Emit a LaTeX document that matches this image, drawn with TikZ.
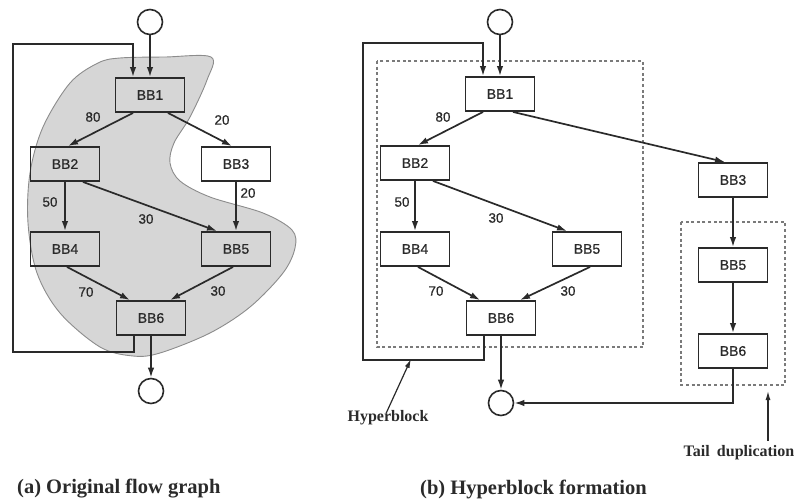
\documentclass[tikz,border=0pt]{standalone}
\usepackage{fontspec}
\setmainfont{Liberation Serif}
\setsansfont{Liberation Sans}
\newfontfamily\medsans[FakeBold=0.7]{Liberation Sans}
\usetikzlibrary{arrows.meta}
\definecolor{ink}{HTML}{2A2A2A}
\definecolor{blobfill}{HTML}{D6D6D6}
\definecolor{blobline}{HTML}{8C8C8C}
\definecolor{dotc}{HTML}{7A7A7A}
\tikzset{
  bb/.style={draw=ink, line width=1.9pt, minimum width=69pt, minimum height=34pt, inner sep=0pt,
    font=\medsans\fontsize{14}{14}\selectfont, text=ink},
  circ/.style={draw=ink, line width=1.6pt, circle, minimum size=25pt, inner sep=0pt},
  arr/.style={draw=ink, line width=1.7pt, -{Latex[length=10pt,width=6.5pt]}},
  lab/.style={font=\medsans\fontsize{13.5}{13.5}\selectfont, text=ink, inner sep=0pt},
  grp/.style={draw=dotc, line width=1.5pt, dash pattern=on 3pt off 2.6pt},
  note/.style={font=\bfseries\fontsize{16}{16}\selectfont, text=ink, inner sep=0pt},
  captext/.style={font=\bfseries\fontsize{20.5}{20.5}\selectfont, text=ink, inner sep=0pt, anchor=west}
}
\begin{document}
\begin{tikzpicture}[x=1pt,y=-1pt]
\useasboundingbox (0,0) rectangle (796,500);
% ---------- (a) original flow graph ----------
\fill[blobfill, draw=blobline, line width=0.9pt] plot[smooth cycle, tension=0.55] coordinates {
 (120,58) (165,57) (211,57) (207,80) (190,117) (174,143) (170,163) (180,181) (210,197)
 (263,213) (292,230) (295,248) (283,273) (250,307) (210,333) (160,353) (133,356)
 (100,347) (60,313) (37,273) (28,223) (30,173) (43,127) (70,83) (98,63)};
\node[circ] (a0) at (150,22) {};
\node[bb] (a1) at (150,95) {BB1};
\node[bb] (a2) at (65,164) {BB2};
\node[bb] (a3) at (236,164) {BB3};
\node[bb] (a4) at (65,249) {BB4};
\node[bb] (a5) at (236,249) {BB5};
\node[bb] (a6) at (151,318) {BB6};
\node[circ] (a7) at (151,391) {};
\coordinate (alb) at (13,352);
\coordinate (alt) at (13,44);
\draw[arr] (a0) -- (a1);
\draw[arr] ([xshift=-17pt]a6.south) |- (alb) -- (alt) -| ([xshift=-17pt]a1.north);
\draw[arr] ([xshift=-17pt]a1.south) -- ([xshift=3pt]a2.north);
\draw[arr] ([xshift=18pt]a1.south) -- ([xshift=-4pt]a3.north);
\draw[arr] (a2) -- (a4);
\draw[arr] ([xshift=18pt]a2.south) -- ([xshift=-19pt]a5.north);
\draw[arr] (a3) -- (a5);
\draw[arr] ([xshift=2pt]a4.south) -- ([xshift=-21pt]a6.north);
\draw[arr] ([xshift=-3pt]a5.south) -- ([xshift=19pt]a6.north);
\draw[arr] (a6) -- (a7);
\node[lab] (la1) at (93,117) {80};
\node[lab] (la2) at (222,120) {20};
\node[lab] (la3) at (50,202) {50};
\node[lab] (la4) at (248,193) {20};
\node[lab] (la5) at (146,219) {30};
\node[lab] (la6) at (86,292) {70};
\node[lab] (la7) at (218,291) {30};
\node[captext] (capa) at (17,489) {(a) Original flow graph};
% ---------- (b) hyperblock formation ----------
\draw[grp] (377,61) rectangle (643,347);
\draw[grp] (681,222) rectangle (785,385);
\node[circ] (b0) at (500,22) {};
\node[bb] (b1) at (500,94) {BB1};
\node[bb] (b2) at (415,163) {BB2};
\node[bb] (b3) at (733,180) {BB3};
\node[bb] (b4) at (415,249) {BB4};
\node[bb] (b5) at (587,249) {BB5};
\node[bb] (b6) at (501,318) {BB6};
\node[bb] (t5) at (733,265) {BB5};
\node[bb] (t6) at (733,351) {BB6};
\node[circ] (b7) at (501,403) {};
\coordinate (blb) at (363,360);
\coordinate (blt) at (363,43);
\draw[arr] (b0) -- (b1);
\draw[arr] ([xshift=-17pt]b6.south) |- (blb) -- (blt) -| ([xshift=-17pt]b1.north);
\draw[arr] ([xshift=-17pt]b1.south) -- ([xshift=3pt]b2.north);
\draw[arr] ([xshift=13pt]b1.south) -- ([xshift=-8pt]b3.north);
\draw[arr] (b2) -- (b4);
\draw[arr] ([xshift=18pt]b2.south) -- ([xshift=-20pt]b5.north);
\draw[arr] ([xshift=3pt]b4.south) -- ([xshift=-21pt]b6.north);
\draw[arr] ([xshift=3pt]b5.south) -- ([xshift=19pt]b6.north);
\draw[arr] (b6) -- (b7);
\draw[arr] (b3) -- (t5);
\draw[arr] (t5) -- (t6);
\draw[arr] (t6.south) |- (b7.east);
\node[lab] (lb1) at (443,117) {80};
\node[lab] (lb2) at (402,202) {50};
\node[lab] (lb3) at (496,218) {30};
\node[lab] (lb4) at (436,291) {70};
\node[lab] (lb5) at (568,291) {30};
\node[note] (hyp) at (388,418) {Hyperblock};
\coordinate (hyptip) at (411,359);
\draw[draw=ink, line width=1.2pt, -{Latex[length=9pt,width=5pt]}] ([xshift=-2pt,yshift=-3pt]hyp.north) -- (hyptip);
\node[note] (tail) at (739,453) {Tail\hspace{0.45em}duplication};
\coordinate (tailtop) at (768,391);
\coordinate (tailbot) at (768,441);
\draw[draw=ink, line width=1.2pt, -{Latex[length=9pt,width=5pt]}] (tailbot) -- (tailtop);
\node[captext] (capb) at (420,489) {(b) Hyperblock formation};
\end{tikzpicture}
\end{document}
